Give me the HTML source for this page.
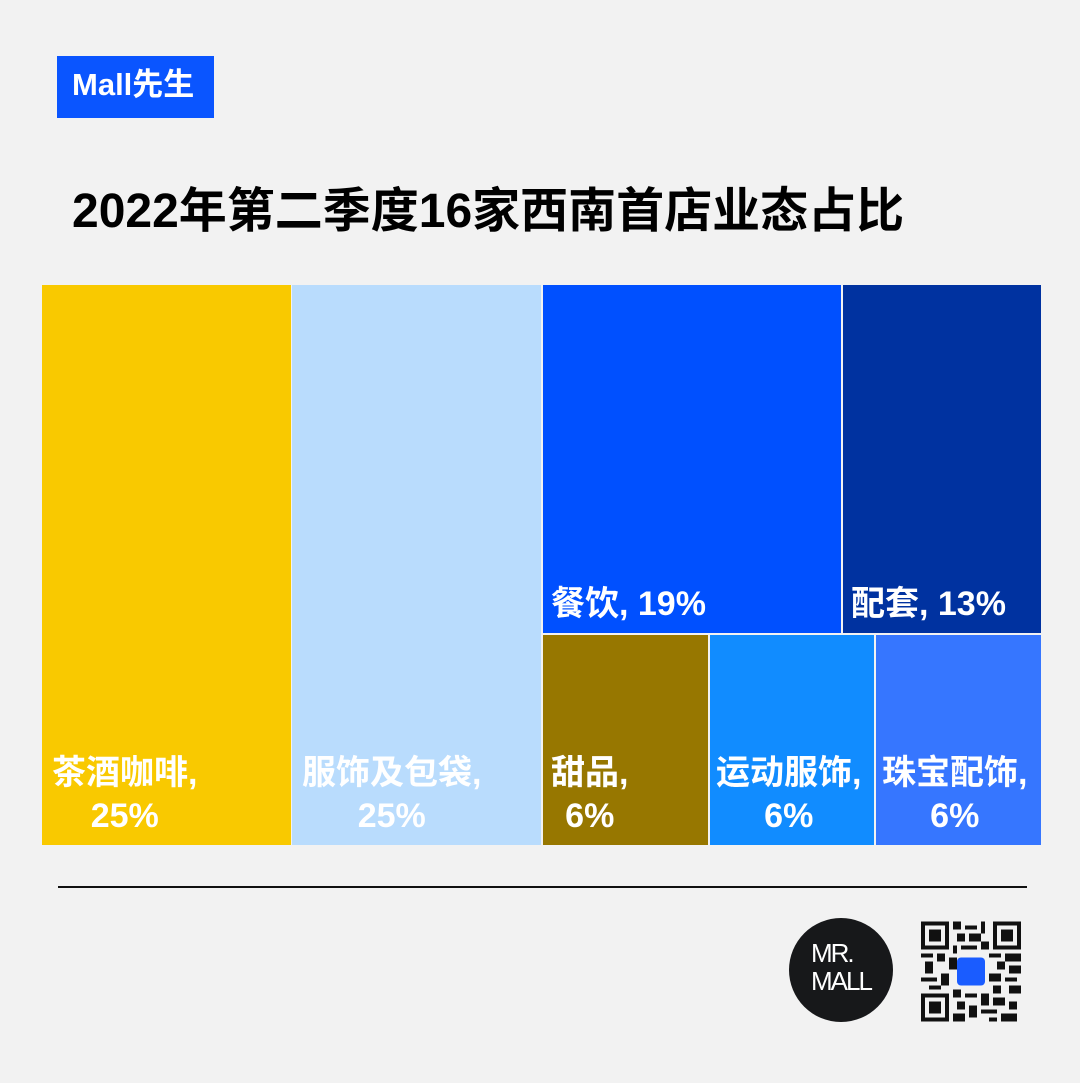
<!DOCTYPE html>
<html><head><meta charset="utf-8"><style>
body{margin:0;width:1080px;height:1083px;background:#f2f2f2;position:relative;overflow:hidden;font-family:"Liberation Sans","Noto Sans CJK SC",sans-serif;}
.a{position:absolute;}
.lbl{position:absolute;color:#fff;font-weight:bold;font-size:34px;line-height:43px;white-space:nowrap;}
.c{text-align:center;display:inline-block;}
</style></head><body>
<div class="a" style="left:57px;top:56px;width:157px;height:62px;background:#0a55ff;"></div>
<div class="a" style="left:72px;top:65px;color:#fff;font-weight:bold;font-size:31px;line-height:40px;">Mall先生</div>
<div class="a" style="left:72px;top:182px;color:#000;font-weight:bold;font-size:48px;line-height:60px;white-space:nowrap;">2022年第二季度16家西南首店业态占比</div>

<div class="a" style="left:42px;top:285px;width:249px;height:560px;background:#f9c900;"></div>
<div class="a" style="left:292px;top:285px;width:249px;height:560px;background:#b9dcfd;"></div>
<div class="a" style="left:543px;top:285px;width:298px;height:348px;background:#0050ff;"></div>
<div class="a" style="left:843px;top:285px;width:198px;height:348px;background:#0032a0;"></div>
<div class="a" style="left:543px;top:635px;width:165px;height:210px;background:#977700;"></div>
<div class="a" style="left:710px;top:635px;width:164px;height:210px;background:#118cff;"></div>
<div class="a" style="left:876px;top:635px;width:165px;height:210px;background:#3676ff;"></div>

<div class="lbl" style="left:551px;top:583px;">餐饮, 19%</div>
<div class="lbl" style="left:851px;top:583px;">配套, 13%</div>
<div class="lbl c" style="left:52px;top:752px;">茶酒咖啡,<br>25%</div>
<div class="lbl c" style="left:302px;top:752px;">服饰及包袋,<br>25%</div>
<div class="lbl c" style="left:551px;top:752px;">甜品,<br>6%</div>
<div class="lbl c" style="left:716px;top:752px;">运动服饰,<br>6%</div>
<div class="lbl c" style="left:882px;top:752px;">珠宝配饰,<br>6%</div>

<div class="a" style="left:58px;top:886px;width:969px;height:2px;background:#111;"></div>
<div class="a" style="left:789px;top:918px;width:104px;height:104px;border-radius:50%;background:#17181a;"></div>
<div class="a" style="left:811px;top:939px;color:#fff;font-size:26px;line-height:28px;letter-spacing:-2px;font-weight:normal;">MR.<br>MALL</div>

<svg class="a" style="left:921px;top:921px" width="100" height="101" viewBox="0 0 25 25">
<rect width="25" height="25" fill="#f2f2f2"/>
<g fill="#111">
<rect x="0" y="0" width="7" height="7"/><rect x="18" y="0" width="7" height="7"/><rect x="0" y="18" width="7" height="7"/>
</g>
<g fill="#f2f2f2"><rect x="1" y="1" width="5" height="5"/><rect x="19" y="1" width="5" height="5"/><rect x="1" y="19" width="5" height="5"/></g>
<g fill="#111"><rect x="2" y="2" width="3" height="3"/><rect x="20" y="2" width="3" height="3"/><rect x="2" y="20" width="3" height="3"/>
<path d="M8 0h2v2h-2zM11 1h3v1h-3zM15 0h1v3h-1zM9 3h2v2h-2zM12 3h3v2h-3zM8 6h1v2h-1zM10 6h4v1h-4zM15 5h2v2h-2zM0 8h3v1h-3zM4 8h2v2h-2zM7 9h2v3h-2zM17 8h3v1h-3zM21 8h4v2h-4zM1 10h2v3h-2zM19 10h2v2h-2zM22 11h3v2h-3zM0 14h4v1h-4zM5 13h2v3h-2zM17 13h3v2h-3zM21 14h3v1h-3zM2 16h3v1h-3zM18 16h2v2h-2zM22 16h3v2h-3zM8 17h2v2h-2zM11 18h3v1h-3zM15 18h2v3h-2zM9 20h2v2h-2zM12 21h2v3h-2zM18 19h3v2h-3zM22 20h2v2h-2zM8 23h3v2h-3zM15 22h4v1h-4zM20 23h4v2h-4zM17 24h2v1h-2z"/></g>
<rect x="9" y="9" width="7" height="7" rx="1" fill="#1a5cff"/>
</svg>
</body></html>
